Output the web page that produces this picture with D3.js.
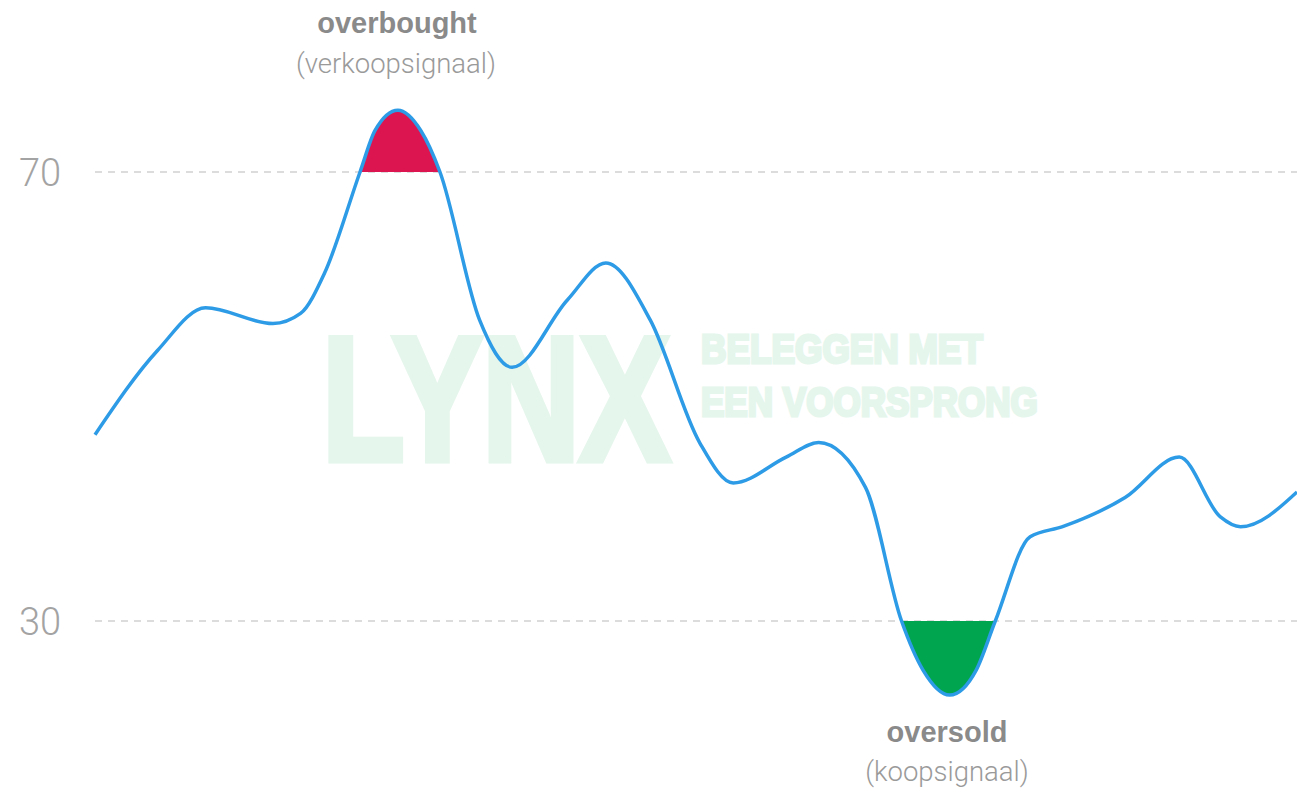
<!DOCTYPE html>
<html lang="nl">
<head>
<meta charset="UTF-8">
<title>RSI overbought / oversold</title>
<style>
    body { margin: 0; background: #fff; }
    .tick-label { font-family: Roboto, "Liberation Sans", sans-serif; font-weight: 300; font-size: 38px; fill: #a3a3a3; }
    .title { font-family: "Liberation Sans", Arial, sans-serif; font-weight: bold; font-size: 29px; fill: #8a8a8a; }
    .sub { font-family: Roboto, "Liberation Sans", sans-serif; font-weight: 300; font-size: 27.5px; fill: #9a9a9a; }
    .mark { font-family: "Liberation Sans", Arial, sans-serif; font-weight: bold; fill: #e5f6ec; stroke: #e5f6ec; stroke-linejoin: miter; }
</style>
</head>
<body>
<div id="chart"></div>
<script src="https://d3js.org/d3.v7.min.js"></script>
<script>
// RSI-achtig verloop (x = tijdstap, y = waarde)
var steps = [0, 5.2, 9.2, 14.8, 17.1, 19.1, 22.05, 23.3, 25.2, 27.1, 28.7,
    32.0, 34.7, 39.3, 42.5, 46.2, 50.3, 53.1, 57.5,
    60.2, 64.1, 67.1, 68.9, 71.1, 73.3, 74.9, 77.8, 80.5, 85.7,
    90.2, 93.6, 95.3, 100];
var rsi = [46.6, 54.1, 57.9, 56.5, 57.4, 61.0, 70.0, 73.7, 75.5, 73.7, 70.0,
    56.8, 52.6, 58.6, 61.9, 56.8, 45.9, 42.3, 44.6,
    45.9, 41.9, 30.0, 25.6, 23.4, 25.6, 30.0, 37.5, 38.4, 41.0,
    44.6, 39.3, 38.4, 41.5];
var levels = [70, 30];

var width = 1297, height = 792;
var svg = d3.select("#chart").append("svg")
    .attr("width", width)
    .attr("height", height);

var x = d3.scaleLinear().domain([0, 100]).range([95, 1297]);
var y = d3.scaleLinear().domain([30, 70]).range([621, 172]);

var data = steps.map(function (s, i) { return {t: s, v: rsi[i]}; });

// watermerk (smal gemaakt met een horizontale schaal, dikker met een stroke)
function mark(txt, px, py, size, w, sw) {
    var t = svg.append("text").attr("class", "mark")
        .attr("font-size", size)
        .attr("stroke-width", sw)
        .text(txt);
    var natural = t.node().getComputedTextLength();
    t.attr("transform", "translate(" + px + "," + (py - sw / 2) + ") scale(" + (w / natural) + ",1)");
}
mark("LYNX", 322, 463, 177, 348, 7);
mark("BELEGGEN MET", 701, 364, 41, 282, 3);
mark("EEN VOORSPRONG", 701, 417, 41, 337, 3);

// niveaus
svg.selectAll(".level")
    .data(levels)
    .enter().append("line")
    .attr("x1", x(0)).attr("x2", x(100))
    .attr("y1", function (d) { return y(d); })
    .attr("y2", function (d) { return y(d); })
    .attr("stroke", "#dcdcdc")
    .attr("stroke-width", 2)
    .attr("stroke-dasharray", "7,6");

svg.selectAll(".tick-label")
    .data(levels)
    .enter().append("text")
    .attr("class", "tick-label")
    .attr("x", 19)
    .attr("y", function (d) { return y(d) + 14; })
    .text(function (d) { return d; });

var curve = d3.curveMonotoneX;

// gevulde zones boven 70 en onder 30
var defs = svg.append("defs");
defs.append("clipPath").attr("id", "clip-top")
    .append("rect").attr("x", 0).attr("y", 0).attr("width", width).attr("height", y(70));
defs.append("clipPath").attr("id", "clip-bottom")
    .append("rect").attr("x", 0).attr("y", y(30)).attr("width", width).attr("height", height - y(30));

svg.append("path")
    .datum(data)
    .attr("clip-path", "url(#clip-top)")
    .attr("fill", "#dc1450")
    .attr("d", d3.area().curve(curve)
        .x(function (d) { return x(d.t); })
        .y0(y(70))
        .y1(function (d) { return y(d.v); }));

svg.append("path")
    .datum(data)
    .attr("clip-path", "url(#clip-bottom)")
    .attr("fill", "#00a550")
    .attr("d", d3.area().curve(curve)
        .x(function (d) { return x(d.t); })
        .y0(y(30))
        .y1(function (d) { return y(d.v); }));

svg.append("path")
    .datum(data)
    .attr("fill", "none")
    .attr("stroke", "#2d9be6")
    .attr("stroke-width", 3.5)
    .attr("stroke-linejoin", "round")
    .attr("d", d3.line().curve(curve)
        .x(function (d) { return x(d.t); })
        .y(function (d) { return y(d.v); }));

// labels
svg.append("text").attr("class", "title").attr("text-anchor", "middle")
    .attr("x", 397).attr("y", 33).text("overbought");
svg.append("text").attr("class", "sub").attr("text-anchor", "middle")
    .attr("x", 396).attr("y", 73).text("(verkoopsignaal)");
svg.append("text").attr("class", "title").attr("text-anchor", "middle")
    .attr("x", 947).attr("y", 742).text("oversold");
svg.append("text").attr("class", "sub").attr("text-anchor", "middle")
    .attr("x", 947).attr("y", 781).text("(koopsignaal)");
</script>
</body>
</html>
